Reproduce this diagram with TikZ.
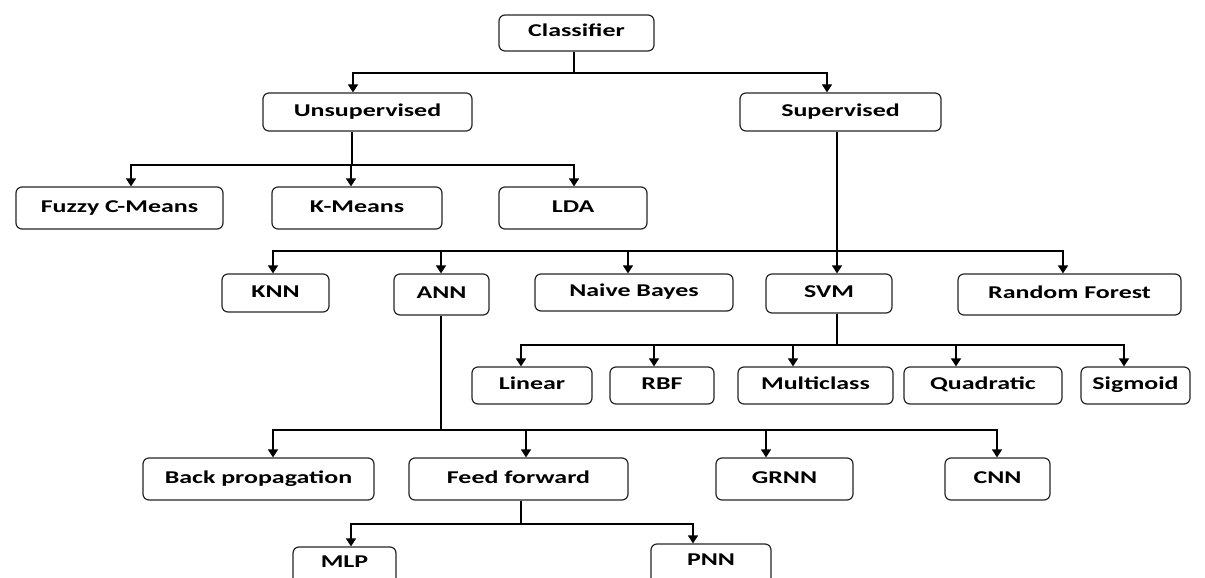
\documentclass[tikz,border=0pt]{standalone}
\usepackage{fontspec}
\setmainfont{Carlito}[FakeStretch=1.44]
\usetikzlibrary{arrows.meta}
\newcommand\mkbox[6]{\node[box, minimum width={#4-#2}, minimum height={#5-#3}] (#1) at ({(#2+#4)/2},{(#3+#5)/2}) {#6};}
\begin{document}
\begin{tikzpicture}[x=1pt,y=-1pt,
  box/.style={draw=black!85, line width=1.2pt, rounded corners=6pt, inner sep=0pt,
    font=\bfseries\fontsize{18}{20}\selectfont, text height=12pt, text depth=4pt},
  lbl/.style={font=\bfseries\fontsize{18}{20}\selectfont, anchor=base, inner sep=0pt},
  ln/.style={line width=1.2pt, black},
  arr/.style={ln, -{Triangle[width=10pt,length=8pt]}}]
\fill[white] (0,0) rectangle (1205,578);
\clip (0,0) rectangle (1205,578);
% boxes
\mkbox{cls}{499}{15}{654}{51}{Classifier}
\mkbox{uns}{263}{93}{472}{131}{Unsupervised}
\mkbox{sup}{740}{93}{941}{131}{Supervised}
\mkbox{fcm}{16}{187}{223}{229}{Fuzzy C-Means}
\mkbox{km}{272}{187}{442}{229}{K-Means}
\mkbox{lda}{499}{187}{647}{229}{LDA}
\mkbox{knn}{222}{274}{329}{312}{KNN}
\mkbox{ann}{394}{274}{489}{315}{ANN}
\mkbox{nb}{535}{274}{733}{311}{Naive Bayes}
\mkbox{svm}{766}{274}{892}{313}{SVM}
\mkbox{rf}{958}{274}{1181}{315}{Random Forest}
\mkbox{lin}{472}{367}{592}{404}{Linear}
\mkbox{rbf}{610}{367}{714}{404}{RBF}
\mkbox{mc}{738}{367}{893}{404}{Multiclass}
\mkbox{quad}{904}{367}{1062}{404}{Quadratic}
\mkbox{sig}{1081}{367}{1190}{404}{Sigmoid}
\mkbox{bp}{143}{458}{374}{500}{Back propagation}
\mkbox{ff}{409}{458}{628}{500}{Feed forward}
\mkbox{grnn}{716}{458}{853}{500}{GRNN}
\mkbox{cnn}{945}{458}{1050}{500}{CNN}
\mkbox{mlp}{293}{547}{396}{593}{}
\node[lbl] at (344.5,567) {MLP};
\mkbox{pnn}{651}{544}{771}{590}{}
\node[lbl] at (711,565) {PNN};
% connectors
\coordinate (j1) at (574,73);
\draw[ln] (cls.south -| j1) -- (j1);
\draw[arr] (j1) -| (uns.north -| 353,0);
\draw[arr] (j1) -| (sup.north -| 827,0);
\coordinate (j2) at (352,165);
\draw[ln] (uns.south -| j2) -- (j2);
\draw[arr] (j2) -| (fcm.north -| 131,0);
\draw[arr] (j2) -| (km.north -| 351,0);
\draw[arr] (j2) -| (lda.north -| 574,0);
\coordinate (j3) at (837,251);
\draw[arr] (sup.south -| j3) -- (svm.north -| j3);
\draw[arr] (j3) -| (knn.north -| 273,0);
\draw[arr] (j3) -| (ann.north -| 441,0);
\draw[arr] (j3) -| (nb.north -| 628,0);
\draw[arr] (j3) -| (rf.north -| 1063,0);
\coordinate (j4) at (837,345);
\draw[ln] (svm.south -| j4) -- (j4);
\draw[arr] (j4) -| (lin.north -| 521,0);
\draw[arr] (j4) -| (rbf.north -| 654,0);
\draw[arr] (j4) -| (mc.north -| 793,0);
\draw[arr] (j4) -| (quad.north -| 956,0);
\draw[arr] (j4) -| (sig.north -| 1124,0);
\coordinate (j5) at (441,430);
\draw[ln] (ann.south -| j5) -- (j5);
\draw[arr] (j5) -| (bp.north -| 273,0);
\draw[arr] (j5) -| (ff.north -| 526,0);
\draw[arr] (j5) -| (grnn.north -| 766,0);
\draw[arr] (j5) -| (cnn.north -| 997,0);
\coordinate (j6) at (521,524);
\draw[ln] (ff.south -| j6) -- (j6);
\draw[arr] (j6) -| (mlp.north -| 351,0);
\draw[arr] (j6) -| (pnn.north -| 693,0);
\end{tikzpicture}
\end{document}
